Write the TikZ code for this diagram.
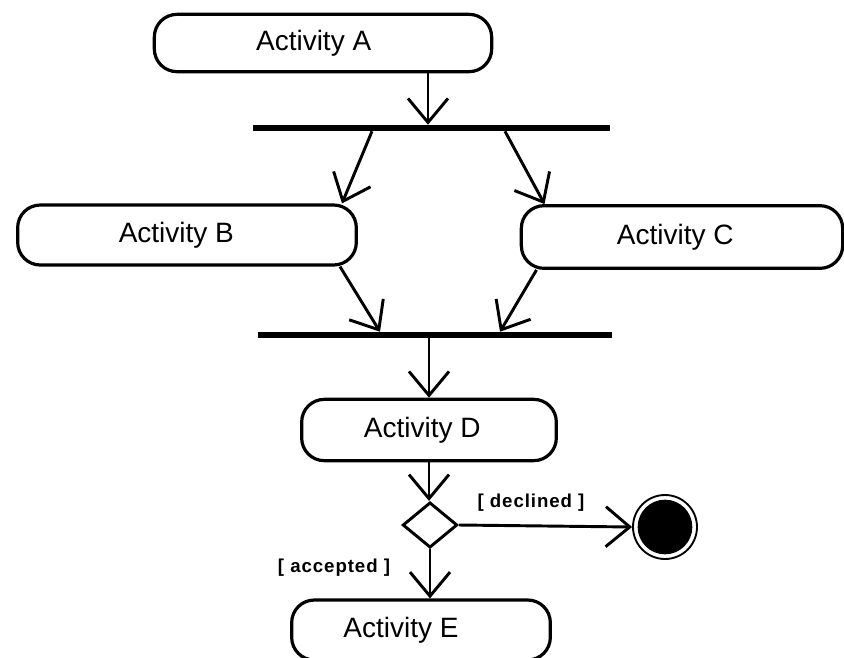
\documentclass[tikz,border=0pt]{standalone}
\usepackage{fontspec}
\setmainfont{Liberation Sans}
\usetikzlibrary{arrows.meta,calc,shapes.geometric}

\tikzset{
  activity/.style={draw=black, line width=2.4pt, fill=white, rounded corners=17pt,
    inner sep=0pt, font=\fontsize{21}{24}\selectfont},
  bar/.style={fill=black, inner sep=0pt, minimum height=4.5pt},
  flow/.style={line width=2.2pt, -{Straight Barb[length=18pt,width=30pt,line width=2.2pt]}},
  guard/.style={font=\bfseries\fontsize{14}{16}\selectfont\addfontfeature{LetterSpace=5}, inner sep=1pt},
  choice/.style={diamond, draw=black, line width=2.2pt, fill=white, inner sep=0pt,
    minimum width=41pt, minimum height=34pt},
}

\begin{document}
\begin{tikzpicture}[x=0.75pt, y=-0.75pt]
  \useasboundingbox (0,0) rectangle (844,658);

  % activities
  \node[activity, minimum width=253pt, minimum height=43pt] (A) at (323,43) {Activity A\hspace*{14pt}};
  \node[activity, minimum width=254pt, minimum height=45pt] (B) at (187,235) {Activity B\hspace*{16pt}};
  \node[activity, minimum width=241pt, minimum height=47pt] (C) at (682,237) {Activity C\hspace*{10pt}};
  \node[activity, minimum width=191pt, minimum height=46pt] (D) at (429,430) {Activity D\hspace*{10pt}};
  \node[activity, minimum width=194pt, minimum height=45pt] (E) at (421,630) {Activity E\hspace*{30pt}};

  % fork and join bars
  \node[bar, minimum width=268pt] (fork) at (431.5,128) {};
  \node[bar, minimum width=265.5pt] (join) at (435,335) {};

  % decision and final state
  \node[choice] (dec) at (430,525) {};
  \node[circle, draw=black, line width=1.4pt, fill=white, minimum size=48pt, inner sep=0pt] (final) at (665,527) {};
  \node[circle, fill=black, minimum size=41pt, inner sep=0pt] (finalDot) at (final.center) {};

  % control flow
  \coordinate (aOut) at ($(A.south)+(105,0)$);
  \draw[flow] (aOut) -- (aOut |- fork.north);
  \draw[flow] ($(fork.south)+(-59.5,0)$) -- ($(B.north)+(155,0)$);
  \draw[flow] ($(fork.south)+(73.5,0)$) -- ($(C.north)+(-137.5,0)$);
  \draw[flow] ($(B.south)+(153,0)$) -- ($(join.north)+(-55,0)$);
  \draw[flow] ($(C.south)+(-145.5,0)$) -- ($(join.north)+(65,0)$);
  \draw[flow] (join.south -| D.north) -- (D.north);
  \draw[flow] (D.south) -- (D.south |- dec.north);
  \draw[flow] (dec.east) -- (final.west);
  \draw[flow] (dec.south) -- (dec.south |- E.north);

  % guards
  \node[guard] (gDeclined) at (531,503) {[ declined ]};
  \node[guard] (gAccepted) at (334,568) {[ accepted ]};
\end{tikzpicture}
\end{document}
